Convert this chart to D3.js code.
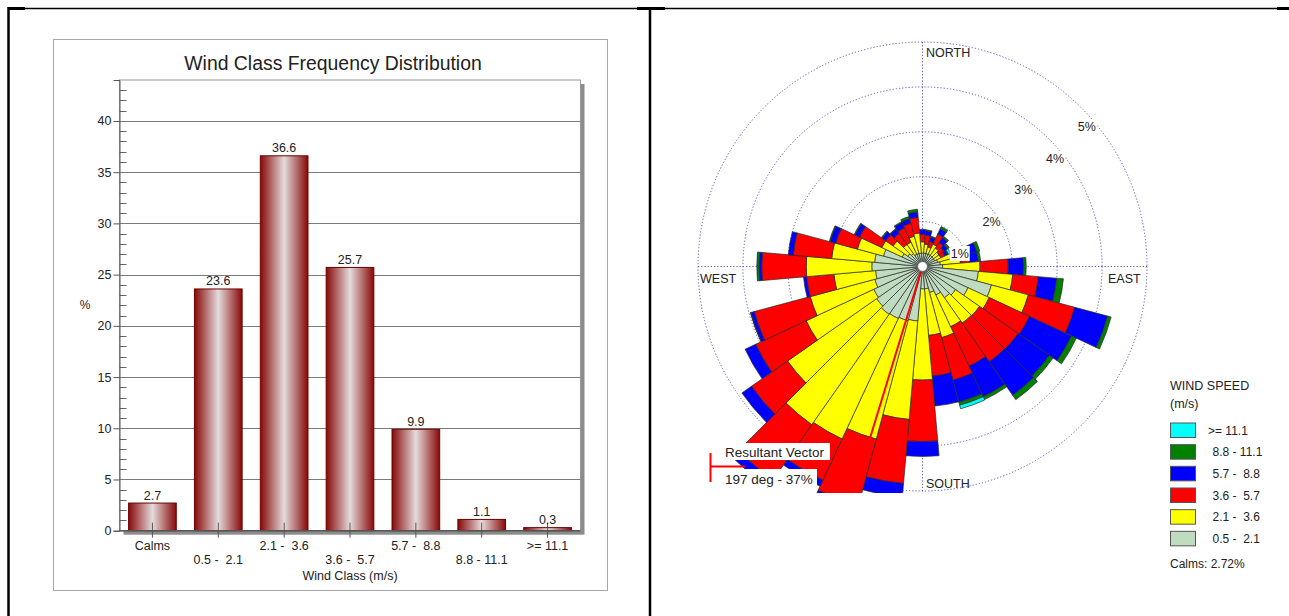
<!DOCTYPE html>
<html><head><meta charset="utf-8">
<script src="https://cdn.jsdelivr.net/npm/d3@7"></script>
<style>
body{margin:0;background:#fff;}
svg{display:block;}
text{font-family:"Liberation Sans",Arial,sans-serif;fill:#222;white-space:pre;}
</style></head><body>
<svg id="c" width="1289" height="616"></svg>
<script>
// ---------- Bar chart data ----------
const barCategories = ["Calms","0.5 -  2.1","2.1 -  3.6","3.6 -  5.7","5.7 -  8.8","8.8 - 11.1",">= 11.1"];
const barValues = [2.7, 23.6, 36.6, 25.7, 9.9, 1.1, 0.3];
const barYTicks = [0,5,10,15,20,25,30,35,40];

// ---------- Wind rose data (percent per direction, per speed class) ----------
const directions = [0,10,20,30,40,50,60,70,80,90,100,110,120,130,140,150,160,170,180,190,200,210,220,230,240,250,260,270,280,290,300,310,320,330,340,350];
const cls_05_21  = [0.3,0.3,0.3,0.3,0.3,0.3,0.3,0.35,0.4,0.45,1.25,1.59,1.12,0.9,0.85,0.7,0.6,0.5,0.5,1.22,1.25,1.28,1.3,1.25,1.2,1.1,1.05,1.13,1.07,0.9,0.5,0.4,0.35,0.3,0.3,0.3];
const cls_21_36  = [0.25,0.2,0.15,0.25,0.2,0.15,0.15,0.4,0.45,0.83,0.77,0.85,0.52,0.65,0.69,0.78,1.04,1.04,2.03,2.2,2.73,2.96,3.0,2.42,1.66,1.49,0.93,1.46,0.96,0.6,0.5,0.4,0.25,0.3,0.4,0.45];
const cls_36_57  = [0.17,0.2,0.13,0.25,0.15,0.13,0.1,0.25,0.2,0.63,0.57,1.07,0.99,1.05,1.05,0.97,0.98,0.91,1.37,1.43,1.52,1.01,1.5,0.98,1.24,1.29,0.61,0.99,0.86,0.5,0.55,0.2,0.3,0.35,0.3,0.35];
const cls_57_88  = [0.11,0.1,0.1,0.13,0.13,0.1,0.07,0.25,0.2,0.34,0.41,0.76,1.03,0.85,0.91,0.75,0.51,0.67,0.33,0.3,0.1,0.15,0.2,0.26,0.26,0.08,0.07,0.06,0.11,0.13,0.11,0.1,0.12,0.13,0.1,0.12];
const cls_88_111 = [0,0.02,0.02,0.05,0.04,0.04,0.02,0.07,0.05,0.06,0.15,0.08,0.12,0.1,0.12,0.07,0.07,0,0,0,0,0,0,0,0,0.01,0,0.05,0,0.02,0.02,0.02,0.01,0.02,0.05,0.06];
const cls_111    = [0,0,0,0,0,0.01,0.05,0,0,0,0,0,0,0,0,0,0.08,0,0,0,0,0,0,0,0,0,0,0,0,0,0,0,0,0,0,0];
const legendLabels = [">= 11.1","8.8 - 11.1","5.7 -  8.8","3.6 -  5.7","2.1 -  3.6","0.5 -  2.1"];
const ringPercents = [1,2,3,4,5];
const calmsText = "Calms: 2.72%";
const resultantDeg = 197, resultantLen = 4.0;

const svg = d3.select("#c");

// ---------- page frame ----------
const fr = svg.append("g").attr("stroke","#000");
fr.append("line").attr("x1",8).attr("x2",1289).attr("y1",8.5).attr("y2",8.5).attr("stroke-width",1.5);
[[8,25],[637,665],[1277,1289]].forEach(s=>fr.append("line").attr("x1",s[0]).attr("x2",s[1]).attr("y1",8.5).attr("y2",8.5).attr("stroke-width",3));
fr.append("line").attr("x1",8.5).attr("x2",8.5).attr("y1",7).attr("y2",616).attr("stroke-width",2.5);
fr.append("line").attr("x1",650).attr("x2",650).attr("y1",7).attr("y2",616).attr("stroke-width",2.5);

// ---------- Bar chart ----------
const bc = svg.append("g");
bc.append("rect").attr("x",53.5).attr("y",39.5).attr("width",554).attr("height",551).attr("fill","#fff").attr("stroke","#a8a8a8");
const PL=119.5, PR=580.5, PT=80, PB=530.7;
const x = d3.scaleBand().domain(barCategories).range([PL,PR]).paddingInner(0.276).paddingOuter(0.138);
const y = d3.scaleLinear().domain([0,44]).range([PB,PT]);
// shadow
bc.append("rect").attr("x",PL+4).attr("y",PT+4).attr("width",PR-PL).attr("height",PB-PT).attr("fill","#8c8c8c");
bc.append("rect").attr("x",PL).attr("y",PT).attr("width",PR-PL).attr("height",PB-PT).attr("fill","#fff").attr("stroke","#9a9a9a");
bc.append("text").attr("x",333).attr("y",70).attr("text-anchor","middle").attr("font-size",19.4).text("Wind Class Frequency Distribution");
// grid
bc.append("g").selectAll("line").data(barYTicks.filter(d=>d>0)).join("line")
  .attr("x1",PL).attr("x2",PR).attr("y1",d=>Math.round(y(d))+0.5).attr("y2",d=>Math.round(y(d))+0.5)
  .attr("stroke","#7a7a7a").attr("stroke-width",1);
// minor ticks
bc.append("g").selectAll("line").data(d3.range(1,44).filter(d=>d%5!==0)).join("line")
  .attr("x1",PL).attr("x2",PL+7).attr("y1",d=>Math.round(y(d))+0.5).attr("y2",d=>Math.round(y(d))+0.5)
  .attr("stroke","#666");
// y axis
const yAxis = d3.axisLeft(y).tickValues(barYTicks).tickSize(6).tickPadding(2).tickFormat(d3.format("d"));
const ya = bc.append("g").attr("transform",`translate(${PL},0)`).call(yAxis);
ya.select(".domain").attr("stroke","#555");
ya.selectAll(".tick line").attr("stroke","#555");
ya.selectAll(".tick text").attr("font-size",12.5).attr("fill","#333").attr("font-family","Liberation Sans, Arial, sans-serif");
bc.append("text").attr("x",85).attr("y",309).attr("text-anchor","middle").attr("font-size",12).text("%");
// gradient
const defs = svg.append("defs");
const g = defs.append("linearGradient").attr("id","barGrad").attr("x1","0").attr("x2","1").attr("y1","0").attr("y2","0");
g.append("stop").attr("offset","0").attr("stop-color","#880808");
g.append("stop").attr("offset","0.5").attr("stop-color","#e4dcdc");
g.append("stop").attr("offset","1").attr("stop-color","#880808");
// bars
bc.append("g").selectAll("rect").data(barValues).join("rect")
  .attr("x",(d,i)=>x(barCategories[i])).attr("width",x.bandwidth())
  .attr("y",d=>y(d)).attr("height",d=>PB-y(d))
  .attr("fill","url(#barGrad)").attr("stroke","#6e0000").attr("stroke-width",1);
// x axis line
bc.append("line").attr("x1",PL).attr("x2",PR).attr("y1",PB).attr("y2",PB).attr("stroke","#555").attr("stroke-width",1.5);
// category ticks
bc.append("g").selectAll("line").data(barCategories).join("line")
  .attr("x1",d=>x(d)+x.bandwidth()/2).attr("x2",d=>x(d)+x.bandwidth()/2)
  .attr("y1",PB-8).attr("y2",PB+7).attr("stroke","#555");
// value labels
bc.append("g").selectAll("text").data(barValues).join("text")
  .attr("x",(d,i)=>x(barCategories[i])+x.bandwidth()/2).attr("y",d=>y(d)-3.5)
  .attr("text-anchor","middle").attr("font-size",12.5).text(d=>d.toFixed(1));
// category labels
bc.append("g").selectAll("text").data(barCategories).join("text")
  .attr("x",d=>x(d)+x.bandwidth()/2).attr("y",(d,i)=>i%2===0?549.5:564)
  .attr("text-anchor","middle").attr("font-size",12.5).text(d=>d);
bc.append("text").attr("x",x(barCategories[3])+x.bandwidth()/2).attr("y",579.5).attr("text-anchor","middle").attr("font-size",12.5).text("Wind Class (m/s)");

// ---------- Wind rose ----------
const cx=922.5, cy=266.5;
const r = d3.scaleLinear().domain([0,5]).range([0,224.5]);
const rose = svg.append("g");
defs.append("clipPath").attr("id","roseClip").append("rect").attr("x",651).attr("y",10).attr("width",638).attr("height",483);
const rc = rose.append("g").attr("clip-path","url(#roseClip)");
const ringColor = "#5858c8";
rc.append("g").selectAll("circle").data(ringPercents).join("circle")
  .attr("cx",cx).attr("cy",cy).attr("r",d=>r(d)).attr("fill","none")
  .attr("stroke",ringColor).attr("stroke-width",1).attr("stroke-dasharray","1.2,2");
rc.append("line").attr("x1",cx).attr("x2",cx).attr("y1",cy-r(5)).attr("y2",cy+r(5)).attr("stroke",ringColor).attr("stroke-dasharray","1.2,2");
rc.append("line").attr("x1",cx-r(5)).attr("x2",cx+r(5)).attr("y1",cy).attr("y2",cy).attr("stroke",ringColor).attr("stroke-dasharray","1.2,2");

const classes = [cls_05_21, cls_21_36, cls_36_57, cls_57_88, cls_88_111, cls_111];
const classColors = ["#c0dcc0","#ffff00","#ff0000","#0000ff","#008000","#00ffff"];
const segs = [];
directions.forEach((dir,i)=>{
  let acc = 0;
  classes.forEach((arr,k)=>{
    const v = arr[i];
    if (v>0) segs.push({dir, r0:acc, r1:acc+v, k});
    acc += v;
  });
});
const arc = d3.arc();
const rad = Math.PI/180;
rc.append("g").attr("transform",`translate(${cx},${cy})`).selectAll("path").data(segs).join("path")
  .attr("d",d=>arc({innerRadius:r(d.r0), outerRadius:r(d.r1), startAngle:(d.dir-5)*rad, endAngle:(d.dir+5)*rad}))
  .attr("fill",d=>classColors[d.k]).attr("stroke","#2a2a2a").attr("stroke-width",0.7).attr("stroke-linejoin","round");
// resultant vector line
const ra = resultantDeg*rad;
rc.append("line").attr("x1",cx).attr("y1",cy)
  .attr("x2",cx+r(resultantLen)*Math.sin(ra)).attr("y2",cy-r(resultantLen)*Math.cos(ra))
  .attr("stroke","#ff0000").attr("stroke-width",2);
rc.append("circle").attr("cx",cx).attr("cy",cy).attr("r",4.8).attr("fill","#fff").attr("stroke","#777").attr("stroke-width",0.8);

// ring labels
ringPercents.forEach(p=>{
  const px = cx + r(p)*Math.SQRT1_2 + 5.5, py = cy - r(p)*Math.SQRT1_2 + 18.7;
  rose.append("rect").attr("x",px-10).attr("y",py-7.5).attr("width",20).attr("height",15).attr("fill","#fff");
  rose.append("text").attr("x",px).attr("y",py+4.5).attr("text-anchor","middle").attr("font-size",12.5).text(p+"%");
});
// compass labels
const comp = [["NORTH",926,57],["SOUTH",926,487.5],["WEST",700,282.5],["EAST",1108,282.5]];
rose.selectAll("text.comp").data(comp).join("text").attr("class","comp")
  .attr("x",d=>d[1]).attr("y",d=>d[2]).attr("font-size",12.5).text(d=>d[0]);

// resultant legend
rose.append("line").attr("x1",710.5).attr("x2",710.5).attr("y1",453).attr("y2",482).attr("stroke","#ff0000").attr("stroke-width",2);
rose.append("line").attr("x1",710).attr("x2",745).attr("y1",466.5).attr("y2",466.5).attr("stroke","#ff0000").attr("stroke-width",2);
rose.append("rect").attr("x",723).attr("y",443).attr("width",107).attr("height",17).attr("fill","#fff");
rose.append("text").attr("x",725).attr("y",456.5).attr("font-size",13.5).text("Resultant Vector");
rose.append("rect").attr("x",723).attr("y",469).attr("width",94).attr("height",18).attr("fill","#fff");
rose.append("text").attr("x",725).attr("y",484).attr("font-size",13.5).text(resultantDeg+" deg - 37%");

// legend
const lg = svg.append("g");
lg.append("text").attr("x",1170).attr("y",389.5).attr("font-size",12.5).text("WIND SPEED");
lg.append("text").attr("x",1170).attr("y",407.5).attr("font-size",12.5).text("(m/s)");
const legendColors = classColors.slice().reverse();
const ly = d3.scaleBand().domain(d3.range(6)).range([422.5,552.5]);
lg.selectAll("rect").data(legendLabels).join("rect")
  .attr("x",1170.5).attr("y",(d,i)=>ly(i)+0.5).attr("width",25).attr("height",14.5)
  .attr("fill",(d,i)=>legendColors[i]).attr("stroke","#555");
lg.selectAll("text.ll").data(legendLabels).join("text").attr("class","ll")
  .attr("x",(d,i)=>i===0?1208:1212.5).attr("y",(d,i)=>ly(i)+12.2).attr("font-size",12).text(d=>d);
lg.append("text").attr("x",1170).attr("y",567.5).attr("font-size",12).text(calmsText);
</script>
</body></html>
